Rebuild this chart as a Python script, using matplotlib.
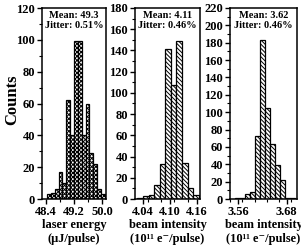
import numpy as np
import matplotlib.pyplot as plt
from matplotlib.ticker import MultipleLocator

plt.rcParams['font.family'] = ['Liberation Serif', 'DejaVu Serif']
plt.rcParams['font.weight'] = 'bold'
plt.rcParams['hatch.linewidth'] = 0.7

# laser energy (uJ/pulse)
energy_range = (48.42, 50.08)
energy_counts = [3, 4, 6, 17, 10, 62, 40, 99, 99, 40, 60, 29, 22, 6, 3]

# beam intensity, first set
beam1_range = (4.0273, 4.1644)
beam1_counts = [1, 3, 4, 13, 33, 141, 107, 149, 34, 10, 4]

# beam intensity, second set
beam2_range = (3.5518, 3.7006)
beam2_counts = [1, 1, 6, 8, 72, 183, 105, 63, 39, 22, 1, 1]

stats = ['Mean: 49.3\nJitter: 0.51%', 'Mean: 4.11\nJitter: 0.46%', 'Mean: 3.62\nJitter: 0.46%']
xlabels = ['laser energy\n(\u03bcJ/pulse)',
           'beam intensity\n(10\u00b9\u00b9 e\u207b/pulse)',
           'beam intensity\n(10\u00b9\u00b9 e\u207b/pulse)']
xticks = [[48.4, 49.2, 50.0], [4.04, 4.10, 4.16], [3.56, 3.68]]
xtick_labels = [['48.4', '49.2', '50.0'], ['4.04', '4.10', '4.16'], ['3.56', '3.68']]

W, H = 301, 245
fig = plt.figure(figsize=(W / 100, H / 100), dpi=100)

boxes = [(42, 64), (135, 65), (230, 67)]
top, bottom = 8, 199
panels = [
    (energy_range, energy_counts, (48.28, 50.11), 120, 0.4, 'xxxxxxxx'),
    (beam1_range, beam1_counts, (4.022, 4.167), 180, 0.03, '\\' * 8),
    (beam2_range, beam2_counts, (3.539, 3.7056), 220, 0.03, '\\' * 8),
]

for i, (rng, counts, xlim, ymax, xminor, hatch) in enumerate(panels):
    left, width = boxes[i]
    ax = fig.add_axes([left / W, (H - bottom) / H, width / W, (bottom - top) / H])
    edges = np.linspace(rng[0], rng[1], len(counts) + 1)
    ax.bar(edges[:-1], counts, width=np.diff(edges), align='edge',
           facecolor='white', edgecolor='black', linewidth=0.9, hatch=hatch)
    ax.set_xlim(*xlim)
    ax.set_ylim(0, ymax)
    ax.yaxis.set_major_locator(MultipleLocator(20))
    ax.yaxis.set_minor_locator(MultipleLocator(10))
    ax.set_xticks(xticks[i])
    ax.set_xticklabels(xtick_labels[i])
    ax.xaxis.set_minor_locator(MultipleLocator(xminor))
    ax.tick_params(which='major', direction='out', length=3.5, width=1, labelsize=9, pad=1.5)
    ax.tick_params(which='minor', direction='out', length=2, width=0.8)
    for lab in ax.get_xticklabels() + ax.get_yticklabels():
        lab.set_fontweight('bold')
    for s in ax.spines.values():
        s.set_linewidth(1.1)
    ax.set_xlabel(xlabels[i], fontsize=9, fontweight='bold', labelpad=1, linespacing=1.15)
    ax.text(0.5, 0.985, stats[i], transform=ax.transAxes, ha='center', va='top',
            fontsize=7.5, fontweight='bold', linespacing=1.15)

fig.text(12 / W, (H - 100) / H, 'Counts', rotation=90, ha='center', va='center',
         fontsize=12, fontweight='bold')

fig.savefig('out.png', dpi=100)
